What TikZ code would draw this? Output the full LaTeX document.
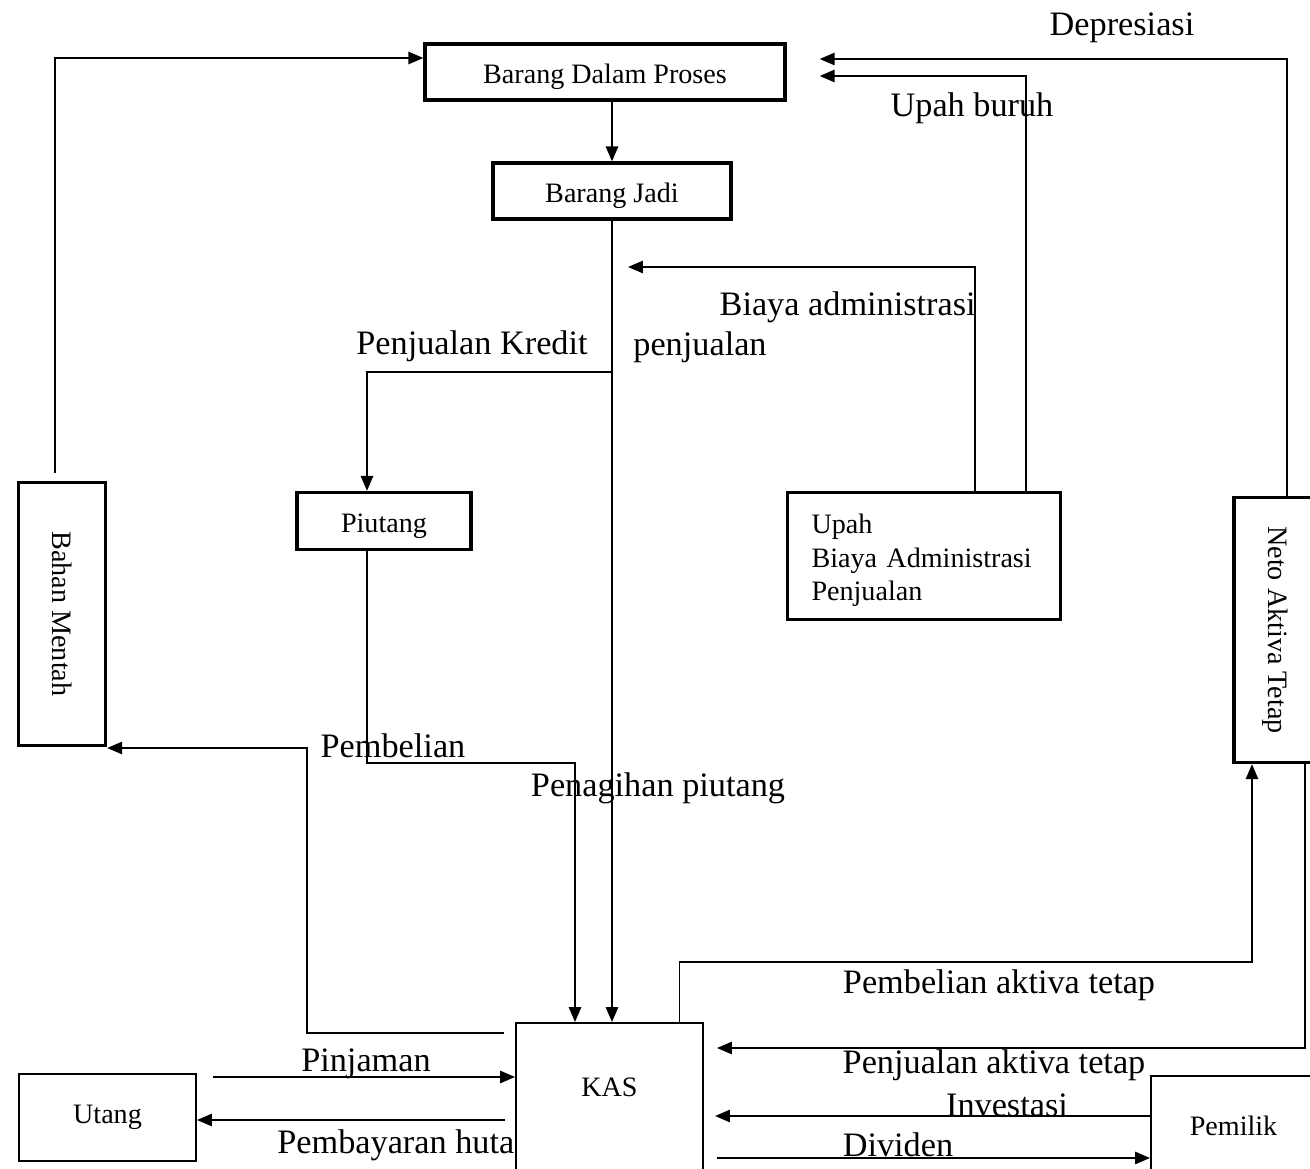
\documentclass[tikz,border=0pt]{standalone}
\usepackage{fontspec}
\setmainfont{Liberation Serif}
\usetikzlibrary{arrows.meta}

\begin{document}
\begin{tikzpicture}[x=0.2mm, y=-0.2mm,
	thickbox/.style={draw, line width=1.9pt, inner sep=0pt, text height=16pt, font=\fontsize{16}{19.3}\selectfont},
	thinbox/.style={draw, line width=1.1pt, inner sep=0pt, fill=white, font=\fontsize{16}{19.3}\selectfont},
	flow/.style={line width=1.05pt, -{Triangle[length=8.5pt,width=7pt]}},
	lbl/.style={font=\fontsize{19.5}{23}\selectfont, inner sep=0pt, yshift=-0.8mm}]
	\useasboundingbox (0,0) rectangle (1310,1169);

	% labels
	\node[lbl] (dep) at (1122,24) {Depresiasi};
	\node[lbl] (upbur) at (972,104) {Upah buruh};
	\node[lbl, anchor=east] (adm) at (976,303) {Biaya administrasi};
	\node[lbl] (admb) at (700,343) {penjualan};
	\node[lbl] (kred) at (472,342) {Penjualan Kredit};
	\node[lbl] (belil) at (393,742) {Pembelian};
	\node[lbl] (tagihl) at (658,784) {Penagihan piutang};
	\node[lbl] (aktbeli) at (999,981) {Pembelian aktiva tetap};
	\node[lbl] (aktjual) at (994,1061) {Penjualan aktiva tetap};
	\node[lbl] (inv) at (1007,1101) {Investasi};
	\node[lbl] (divl) at (898,1141) {Dividen};
	\node[lbl] (pinjl) at (366,1060) {Pinjaman};
	\node[lbl, anchor=west] (bayarl) at (277,1141) {Pembayaran hutang};

	% boxes
	\node[thickbox, minimum width=72mm, minimum height=11.2mm] (bdp) at (605,72) {Barang Dalam Proses};
	\node[thickbox, minimum width=47.6mm, minimum height=11.2mm] (bjadi) at (612,191) {Barang Jadi};
	\node[thickbox, minimum width=17.4mm, minimum height=52.6mm,
		label={[rotate=-90, font=\fontsize{16}{19}\selectfont]center:Bahan Mentah}] (bahan) at (62,614) {};
	\node[thickbox, minimum width=34.8mm, minimum height=11.4mm] (piutang) at (384,521) {Piutang};
	\node[thickbox, minimum width=54.6mm, minimum height=25.4mm, text width=45mm, align=left] (upah) at (924,556)
		{Upah\\Biaya Administrasi\\Penjualan};
	\node[thickbox, minimum width=16.4mm, minimum height=53mm,
		label={[rotate=-90, font=\fontsize{16}{19}\selectfont]center:Neto Aktiva Tetap}] (neto) at (1275,630) {};
	\node[thinbox, minimum width=37.4mm, minimum height=30.4mm,
		label={[yshift=2.4mm, font=\fontsize{16}{19}\selectfont]center:KAS}] (kas) at (609.5,1099) {};
	\node[thinbox, minimum width=35.4mm, minimum height=17.4mm] (utang) at (107.5,1117.5) {Utang};
	\node[thinbox, minimum width=33mm, minimum height=20mm] (pemilik) at (1233.5,1126) {Pemilik};

	% turning points
	\coordinate (kredit) at (612,372);
	\coordinate (tagih) at (575,763);
	\coordinate (beli) at (307,748);
	\coordinate (aktiva) at (1252,962);
	\coordinate (admin) at (628,267);

	% flows
	\draw[flow] ([xshift=-1.4mm,yshift=1.6mm]bahan.north) |- ([yshift=2.8mm]bdp.west);
	\draw[flow] (bjadi.north |- bdp.south) -- (bjadi.north);
	\draw[flow] ([xshift=2.4mm]neto.north) |- ([xshift=6.6mm,yshift=2.6mm]bdp.east);
	\draw[flow] ([xshift=20.4mm]upah.north) |- ([xshift=6.6mm,yshift=-0.8mm]bdp.east);
	\draw[flow] ([xshift=10.2mm]upah.north) |- (admin);
	\draw[flow] (bjadi.south) -- (bjadi.south |- kas.north);
	\draw[flow] (kredit) -| ([xshift=-3.4mm]piutang.north);
	\draw[flow] ([xshift=-3.4mm]piutang.south) |- (tagih) -- (tagih |- kas.north);
	\draw[flow] ([xshift=-2.2mm,yshift=-2.2mm]kas.north west) -| (beli) -- (beli -| bahan.east);
	\draw[flow] ([xshift=14mm]kas.north) |- (aktiva) -- (aktiva |- neto.south);
	\draw[flow] ([xshift=6mm]neto.south) |- ([xshift=2.6mm,yshift=10.2mm]kas.east);
	\draw[flow] ([yshift=2mm]pemilik.west) -- ++(-435,0);
	\draw[flow] ([xshift=2.6mm,yshift=-11.8mm]kas.east) coordinate (div) -- (div -| pemilik.west);
	\draw[flow] ([xshift=3.2mm,yshift=8.1mm]utang.east) coordinate (pinj) -- (pinj -| kas.west);
	\draw[flow] ([xshift=-2mm,yshift=-4.2mm]kas.west) coordinate (bayar) -- (bayar -| utang.east);
\end{tikzpicture}
\end{document}
